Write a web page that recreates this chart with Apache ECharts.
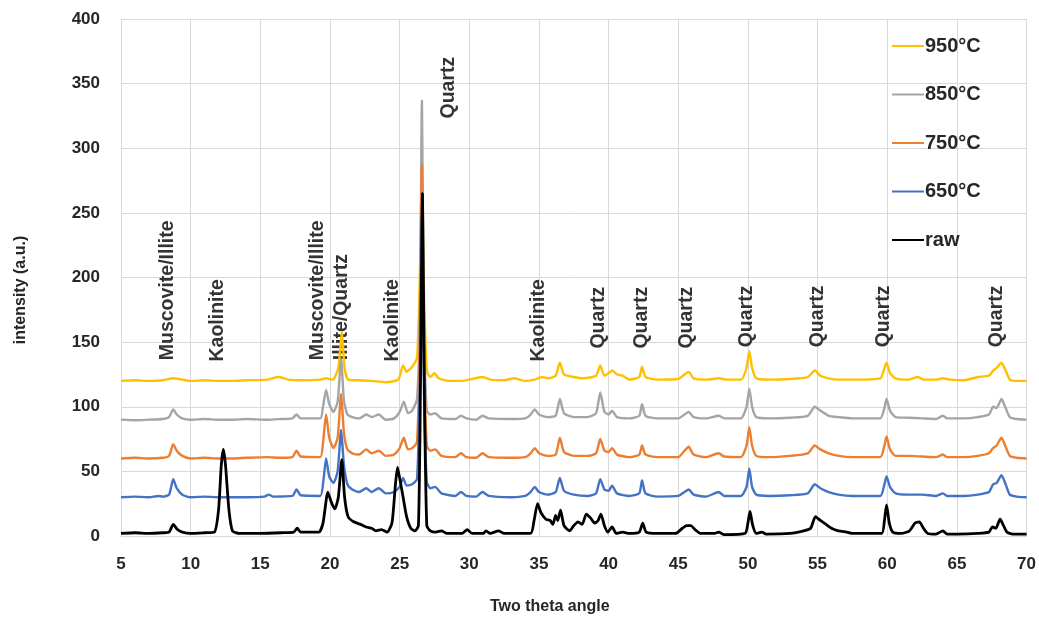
<!DOCTYPE html>
<html>
<head>
<meta charset="utf-8">
<script src="https://cdn.jsdelivr.net/npm/echarts@6/dist/echarts.min.js"></script>
<style>
  html, body { margin: 0; padding: 0; background: #fff; }
  #chart { width: 1039px; height: 623px; }
</style>
</head>
<body>
<div id="chart"></div>
<script>
const xTicks = { min: 5, max: 70, step: 5 };
const yTicks = { min: 0, max: 400, step: 50 };

const seriesNames = ["950°C", "850°C", "750°C", "650°C", "raw"];

const raw = [
  [5,2],[6,2.5],[7,2],[8,2.5],[8.45,3],[8.75,9],[9.05,5],[9.4,3],[10,2],[11,2.5],[11.7,3],[12.0,20],[12.2,55],[12.35,67],[12.5,55],[12.75,20],[13.0,4],[13.5,2],[15,2],[16.5,2.5],[17.4,3],[17.65,6],[17.9,3],[19.2,3],[19.5,10],[19.85,34],[20.1,26],[20.35,21],[20.6,30],[20.85,59],[21.05,30],[21.3,15],[21.7,11],[22.2,9],[22.6,7],[23,6],[23.3,4],[23.7,5],[24.1,3],[24.45,10],[24.7,40],[24.85,53],[25.0,45],[25.25,30],[25.5,15],[25.8,6],[26.1,4],[26.35,8],[26.5,120],[26.64,265],[26.78,110],[26.95,8],[27.2,4],[27.6,3],[28,4],[28.4,2],[29.5,2],[29.85,5],[30.2,2],[31,2],[31.2,4],[31.5,2],[32.1,4],[32.5,2],[34.4,2],[34.65,12],[34.9,25],[35.15,18],[35.5,13],[35.8,12],[36.0,9],[36.2,16],[36.35,12],[36.55,20],[36.8,8],[37.2,4],[37.5,8],[37.8,11],[38.1,9],[38.4,17],[38.7,14],[39.0,10],[39.25,12],[39.45,17],[39.7,8],[39.95,3],[40.25,7],[40.55,2],[41,3],[41.5,2],[42.2,3],[42.45,10],[42.7,3],[43.5,2],[44.8,2],[45.3,6],[45.6,8],[45.9,8],[46.2,5],[46.6,2],[47.6,2],[47.9,3],[48.3,1],[49.8,2],[50.0,10],[50.15,19],[50.35,8],[50.6,2],[51,3],[51.3,1.5],[53,2],[54,4],[54.5,6],[54.85,15],[55.2,12],[55.6,9],[56,6],[56.5,4],[57.1,3],[57.5,2],[59.6,2],[59.8,12],[59.95,24],[60.15,10],[60.4,3],[61,2],[61.6,4],[62.0,10],[62.3,11],[62.6,6],[62.9,2],[63.5,1.5],[64.0,4],[64.3,1.5],[65,1.5],[66.5,2],[67.3,3],[67.55,7],[67.8,6],[68.1,13],[68.35,8],[68.6,3],[69,1.5],[70,1.5]
];

const t650 = [
  [5,30],[6,30.5],[7,30],[7.7,31],[8,30.5],[8.45,32],[8.75,44],[9.0,37],[9.4,32],[10,30],[11,30.5],[12,30],[13,30],[14,30],[15.3,30.5],[15.6,32],[15.9,30.5],[17.3,31],[17.6,36],[17.9,31.5],[19.3,31],[19.55,45],[19.72,60],[19.95,46],[20.25,41],[20.55,50],[20.8,82],[21.0,55],[21.25,40],[21.6,36],[22.1,34],[22.6,37],[23,34],[23.5,37],[24,33],[24.6,34],[25.0,38],[25.25,45],[25.5,39],[25.9,40],[26.25,44],[26.45,120],[26.6,250],[26.75,110],[26.95,42],[27.2,37],[27.55,38],[28,33],[29,31],[29.4,34],[29.8,31],[30.5,30.5],[30.95,34],[31.4,31],[33,30],[34,31],[34.4,34],[34.7,38],[35,34],[35.6,32],[36.2,34],[36.5,45],[36.8,35],[37.5,32],[38.5,31],[39.1,33],[39.4,44],[39.7,36],[40.0,35],[40.25,39],[40.6,33],[41.5,31],[42.2,33],[42.4,43],[42.65,33],[43.5,30.5],[45,31],[45.45,34],[45.75,36],[46.1,32],[47,30.5],[47.9,34],[48.3,31],[49.5,31],[49.9,38],[50.1,52],[50.3,38],[50.6,32],[51.5,31],[53,31.5],[54.3,33],[54.8,40],[55.2,37],[55.8,34],[56.5,32],[57.5,31],[59.5,31],[59.8,40],[59.95,46],[60.2,38],[60.6,33],[61.5,32],[62.5,32],[63.5,31],[64.0,33],[64.3,31],[65.5,31],[66.5,32],[67.3,34],[67.6,40],[67.85,41],[68.2,47],[68.5,40],[68.8,32],[69.3,30.5],[70,30]
];

const t750 = [
  [5,60],[6,60.5],[7,60],[8,60.5],[8.45,62],[8.75,71],[9.0,66],[9.4,62],[10,60],[11,60.5],[12,60],[13,60],[14,60.5],[15.5,61],[16.5,60.5],[17.3,61],[17.6,66],[17.9,61.5],[19.3,61],[19.5,72],[19.72,94],[19.95,76],[20.25,68],[20.55,76],[20.8,110],[21.0,80],[21.25,67],[21.6,64],[22.1,63],[22.6,67],[23,64],[23.5,66],[24,62],[24.6,63],[25.0,68],[25.3,76],[25.6,67],[25.9,68],[26.25,73],[26.45,150],[26.6,287],[26.75,140],[26.95,70],[27.2,66],[27.55,67],[28,62],[29,61],[29.4,64],[29.8,61],[30.5,60.5],[30.95,64],[31.4,61],[33,60.5],[34,61],[34.4,64],[34.7,68],[35,64],[35.6,62],[36.2,63],[36.5,76],[36.8,65],[37.5,62],[38.5,62],[39.1,64],[39.4,75],[39.7,66],[40.0,65],[40.25,68],[40.6,63],[41.5,61],[42.2,63],[42.4,70],[42.65,63],[43.5,61],[45,61],[45.45,66],[45.75,69],[46.1,63],[47,61],[47.9,64],[48.3,61.5],[49.5,61],[49.9,70],[50.1,84],[50.3,70],[50.6,62],[51.5,61],[53,62],[54.3,64],[54.8,70],[55.2,67],[55.8,64],[56.5,62],[57.5,61],[59.5,61],[59.8,70],[59.95,77],[60.2,67],[60.6,62],[61.5,62],[62.5,61.5],[63.5,61],[64.0,63],[64.3,61],[65.5,61],[66.5,62],[67.3,64],[67.6,68],[67.85,70],[68.2,76],[68.5,69],[68.8,62],[69.3,60.5],[70,60]
];

const t850 = [
  [5,90],[6,89.5],[7,90],[8,90.5],[8.45,92],[8.75,98],[9.0,94],[9.4,91],[10,90],[11,90.5],[12,90],[13,90],[14,90.5],[15.5,90],[16.5,90.5],[17.3,91],[17.6,94],[17.9,91],[19.3,91],[19.5,100],[19.72,113],[19.95,102],[20.25,96],[20.55,104],[20.8,137],[21.0,105],[21.25,94],[21.6,92],[22.1,91],[22.6,94],[23,92],[23.5,94],[24,90],[24.6,91],[25.0,96],[25.3,104],[25.6,95],[25.9,97],[26.25,106],[26.45,170],[26.6,337],[26.75,160],[26.95,97],[27.2,94],[27.55,95],[28,91],[29,90.5],[29.4,93],[29.8,91],[30.5,90],[30.95,93],[31.4,91],[33,90.5],[34,91],[34.4,94],[34.7,98],[35,94],[35.6,92],[36.2,93],[36.5,106],[36.8,95],[37.5,92],[38.5,92],[39.1,95],[39.4,111],[39.7,96],[40.0,94],[40.25,97],[40.6,92],[41.5,91],[42.2,93],[42.4,102],[42.65,93],[43.5,91],[45,91],[45.45,94],[45.75,96],[46.1,92],[47,91],[47.9,93],[48.3,91],[49.5,91],[49.9,100],[50.1,114],[50.3,100],[50.6,92],[51.5,91],[53,91.5],[54.3,93],[54.8,100],[55.2,97],[55.8,93],[56.5,92],[57.5,91],[59.5,91],[59.8,99],[59.95,106],[60.2,97],[60.6,92],[61.5,91.5],[62.5,91],[63.5,90.5],[64.0,93],[64.3,91],[65.5,91],[66.5,92],[67.3,94],[67.6,100],[67.85,99],[68.2,106],[68.5,99],[68.8,92],[69.3,90.5],[70,90]
];

const t950 = [
  [5,120],[6,120.5],[7,120],[8,120.5],[8.75,122],[9.4,121],[10,120],[11,120.5],[12,120],[13,120],[14,120.5],[15.5,121],[16.3,123],[17,121],[18,120.5],[19.3,121],[19.72,122],[20.2,121],[20.6,130],[20.85,158],[21.05,130],[21.3,121],[22,120.5],[23,120],[24,119],[24.9,121],[25.25,132],[25.5,127],[25.9,131],[26.25,138],[26.45,200],[26.6,280],[26.75,190],[26.95,128],[27.2,123],[27.5,126],[27.8,122],[28.5,120],[29.5,120],[30.95,123],[31.5,121],[32.5,120.5],[33.2,122],[34,120],[34.7,121],[35.2,123],[35.7,122],[36.2,124],[36.5,134],[36.8,125],[37.5,123],[38.2,122],[39.1,124],[39.4,132],[39.7,124],[40.0,126],[40.25,128],[40.6,125],[41.0,124],[41.5,121],[42.2,123],[42.4,131],[42.65,123],[43.5,121],[45,121.5],[45.45,125],[45.75,127],[46.1,122],[47,121],[47.9,122],[48.5,121],[49.5,121],[49.9,130],[50.1,143],[50.3,130],[50.6,122],[51.5,121],[53,121.5],[54.3,123],[54.8,128],[55.2,124],[55.8,122],[56.5,121],[57.5,121],[59.5,122],[59.8,130],[59.95,134],[60.2,126],[60.6,122],[61.5,121],[62.2,123],[62.6,121],[63.5,121],[64.0,122],[64.5,121],[65.5,120.5],[66.5,123],[67.3,124],[67.6,128],[67.85,130],[68.2,134],[68.5,128],[68.8,121],[69.3,120],[70,120]
];

// phase labels (anchored at the bottom of each rotated label)
const noteText = ["Muscovite/Illite", "Kaolinite", "Muscovite/Illite", "Illite/Quartz", "Kaolinite", "Quartz", "Kaolinite", "Quartz", "Quartz", "Quartz", "Quartz", "Quartz", "Quartz", "Quartz"];
const noteX = [8.35, 11.95, 19.1, 20.85, 24.5, 28.5, 35.0, 39.3, 42.4, 45.6, 49.9, 55.0, 59.75, 67.85];
const noteY = [136, 135, 136, 136, 135, 323, 135, 145, 145, 145, 146, 146, 146, 146];

const colors = ["#FFC000", "#A5A5A5", "#ED7D31", "#4472C4", "#000000"];
const traces = [t950, t850, t750, t650, raw];

const FONT = "Liberation Sans, Arial, sans-serif";
const chart = echarts.init(document.getElementById("chart"));

const lineSeries = seriesNames.map((name, i) => ({
  name,
  type: "line",
  data: traces[i],
  symbol: "none",
  showSymbol: false,
  smooth: 0.2,
  lineStyle: { color: colors[i], width: name === "raw" ? 2.8 : 2.4 },
  itemStyle: { color: colors[i] },
  animation: false
}));

const notes = {
  type: "scatter",
  silent: true,
  symbolSize: 0,
  animation: false,
  data: noteText.map((t, i) => ({ name: t, value: [noteX[i], noteY[i]] })),
  label: {
    show: true,
    position: "inside",
    formatter: "{b}",
    rotate: 90,
    align: "left",
    verticalAlign: "middle",
    color: "#000",
    fontFamily: FONT,
    fontWeight: "bold",
    fontSize: 19.5
  }
};

chart.setOption({
  backgroundColor: "#fff",
  animation: false,
  grid: { left: 121, right: 12, top: 19, bottom: 87 },
  legend: {
    data: seriesNames,
    orient: "vertical",
    left: 892,
    top: 36,
    padding: 0,
    icon: "rect",
    itemWidth: 32,
    itemHeight: 2,
    itemGap: 28.5,
    textStyle: { fontFamily: FONT, fontWeight: "bold", fontSize: 20, color: "#262626", padding: [0, 0, 0, -4] }
  },
  xAxis: {
    type: "value",
    min: xTicks.min,
    max: xTicks.max,
    interval: xTicks.step,
    name: "Two theta angle",
    nameLocation: "middle",
    nameGap: 63,
    nameTextStyle: { fontFamily: FONT, fontWeight: "bold", fontSize: 16, color: "#262626", padding: [0, 48, 0, 0] },
    axisLine: { show: true, lineStyle: { color: "#d9d9d9", width: 1 } },
    axisTick: { show: false },
    axisLabel: { margin: 20, fontFamily: FONT, fontWeight: "bold", fontSize: 17, color: "#262626" },
    splitLine: { show: true, lineStyle: { color: "#d9d9d9", width: 1 } }
  },
  yAxis: {
    type: "value",
    min: yTicks.min,
    max: yTicks.max,
    interval: yTicks.step,
    name: "intensity (a.u.)",
    nameLocation: "middle",
    nameGap: 92,
    nameTextStyle: { fontFamily: FONT, fontWeight: "bold", fontSize: 16, color: "#262626", padding: [0, 25, 0, 0] },
    axisLine: { show: false },
    axisTick: { show: false },
    axisLabel: { margin: 21, fontFamily: FONT, fontWeight: "bold", fontSize: 17, color: "#262626" },
    splitLine: { show: true, lineStyle: { color: "#d9d9d9", width: 1 } }
  },
  series: [...lineSeries, notes]
});

window.addEventListener("resize", () => chart.resize());
</script>
</body>
</html>
